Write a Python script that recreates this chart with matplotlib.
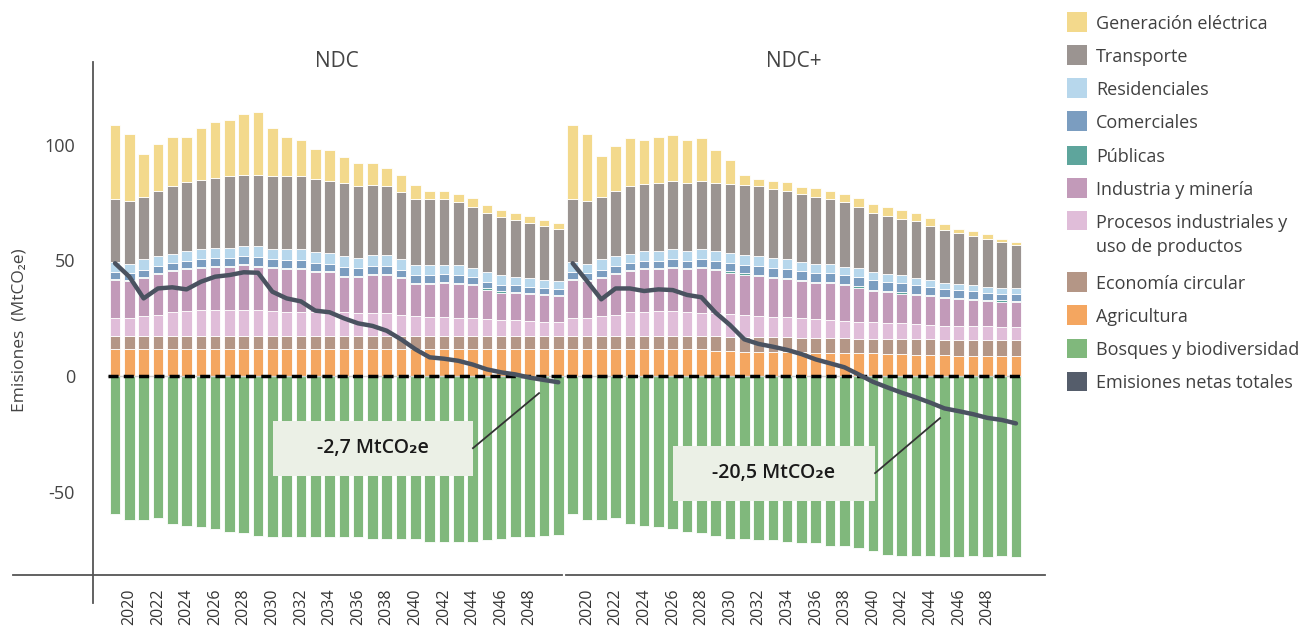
import matplotlib
matplotlib.use('Agg')
import matplotlib.pyplot as plt
from matplotlib.patches import Rectangle
from matplotlib.lines import Line2D

plt.rcParams['font.family'] = ['Open Sans', 'DejaVu Sans']

# ---------------- data ----------------
years = list(range(2019, 2051))
scenarios = ['NDC', 'NDC+']
sectors = ['Generación eléctrica', 'Transporte', 'Residenciales', 'Comerciales', 'Públicas',
           'Industria y minería', 'Procesos industriales y\nuso de productos', 'Economía circular',
           'Agricultura', 'Bosques y biodiversidad', 'Emisiones netas totales']

# NDC
gen_ndc = [32.2, 29.0, 18.4, 20.2, 21.4, 19.5, 22.5, 23.9, 24.6, 26.5, 27.2, 20.8, 17.1, 15.8, 13.1, 13.2,
           11.3, 10.1, 9.5, 8.1, 7.3, 6.2, 3.7, 3.7, 3.8, 3.8, 3.2, 3.2, 3.2, 3.2, 2.4, 2.4]
trans_ndc = [27.3, 27.2, 27.1, 28.4, 29.2, 29.8, 29.7, 30.4, 30.9, 30.8, 30.8, 31.4, 31.4, 31.4, 31.6, 31.5,
             31.6, 30.9, 30.3, 29.7, 29.2, 28.4, 28.4, 28.4, 27.0, 26.5, 25.8, 25.2, 24.5, 23.9, 23.4, 22.7]
res_ndc = [4.2, 4.1, 4.5, 4.0, 4.0, 4.3, 4.4, 4.4, 4.4, 4.4, 4.8, 4.4, 4.7, 4.7, 4.7, 4.4,
           4.7, 4.4, 4.7, 4.7, 4.4, 4.4, 4.4, 4.1, 4.4, 4.0, 4.0, 4.0, 3.8, 3.6, 3.5, 3.4]
com_ndc = [2.9, 2.9, 3.2, 3.0, 2.9, 3.2, 3.3, 3.3, 3.3, 3.3, 3.7, 3.3, 3.6, 3.6, 3.6, 3.3,
           3.6, 3.3, 3.6, 3.6, 3.3, 3.4, 3.4, 3.1, 3.4, 3.0, 3.0, 3.0, 2.9, 2.7, 2.6, 2.6]
pub_ndc = [0.5, 0.5, 0.5, 0.5, 0.5, 0.5, 0.5, 0.5, 0.5, 0.5, 0.5, 0.5, 0.5, 0.5, 0.5, 0.5,
           0.5, 0.5, 0.5, 0.5, 0.5, 0.5, 0.5, 0.5, 0.5, 0.5, 0.5, 0.5, 0.5, 0.5, 0.5, 0.5]
ind_ndc = [16.4, 15.9, 16.3, 17.9, 18.0, 18.0, 18.2, 18.7, 18.7, 19.5, 18.7, 18.6, 18.3, 18.3, 17.4, 17.4,
           15.5, 15.9, 16.5, 16.5, 15.9, 13.8, 14.1, 14.7, 14.6, 14.1, 12.8, 11.9, 11.6, 11.6, 11.6, 11.1]
proc_ndc = [8.0, 8.0, 8.8, 9.2, 10.3, 11.0, 11.4, 11.4, 11.4, 11.4, 11.4, 11.0, 10.7, 10.7, 10.3, 10.3,
            10.3, 9.9, 9.9, 9.9, 9.2, 8.8, 8.5, 8.5, 8.0, 8.0, 7.4, 7.0, 7.0, 6.7, 6.3, 6.3]
circ_ndc = [5.7, 5.7, 5.7, 5.7, 5.7, 5.7, 5.7, 5.7, 5.7, 5.7, 5.7, 5.7, 5.7, 5.7, 5.7, 5.7,
            5.7, 5.7, 5.7, 5.7, 5.7, 5.7, 5.7, 5.7, 5.7, 5.7, 5.7, 5.7, 5.7, 5.7, 5.7, 5.7]
agri_ndc = [11.5, 11.5, 11.5, 11.5, 11.5, 11.5, 11.5, 11.5, 11.5, 11.5, 11.5, 11.5, 11.5, 11.5, 11.5, 11.5,
            11.5, 11.5, 11.5, 11.5, 11.5, 11.5, 11.5, 11.5, 11.5, 11.5, 11.5, 11.5, 11.5, 11.5, 11.5, 11.5]
bosq_ndc = [-59.9, -62.3, -62.3, -61.6, -64.2, -64.8, -65.5, -66.1, -67.4, -68.0, -69.3, -69.8, -69.8, -69.8,
            -69.8, -69.8, -69.8, -69.8, -70.4, -70.4, -70.4, -70.4, -71.7, -71.7, -71.7, -71.7, -71.0, -70.4,
            -69.8, -69.8, -69.3, -68.7]
net_ndc = [48.8, 43.0, 33.6, 37.9, 38.4, 37.5, 40.8, 43.0, 43.7, 44.9, 44.7, 36.5, 33.6, 32.3, 28.3, 27.6,
           25.0, 22.8, 21.7, 19.6, 15.9, 11.6, 8.1, 7.5, 6.6, 5.0, 2.9, 1.6, 0.7, -0.7, -1.7, -2.7]

# NDC+
gen_ndcp = [32.2, 29.0, 17.8, 19.5, 20.8, 19.3, 19.8, 19.6, 18.6, 18.3, 14.1, 10.4, 4.3, 3.0, 3.8, 3.6,
            3.1, 3.8, 3.6, 3.7, 3.8, 3.8, 3.8, 3.8, 3.7, 3.2, 2.5, 1.9, 2.0, 1.9, 1.2, 1.2]
trans_ndcp = [27.3, 27.2, 27.1, 28.4, 29.2, 28.8, 29.5, 29.6, 29.5, 29.6, 29.5, 29.9, 30.3, 30.3, 29.6, 29.7,
              29.7, 29.0, 27.9, 27.8, 26.5, 25.8, 25.1, 24.5, 24.7, 23.4, 22.8, 22.1, 21.3, 20.9, 20.2, 18.9]
res_ndcp = [4.2, 4.1, 4.5, 4.0, 4.0, 4.3, 4.3, 4.4, 4.3, 4.3, 4.3, 4.3, 4.3, 4.3, 4.3, 4.0,
            3.8, 3.8, 3.8, 3.5, 3.8, 3.5, 3.4, 3.4, 3.0, 3.0, 2.8, 2.7, 2.7, 2.5, 2.4, 2.5]
com_ndcp = [2.9, 2.9, 3.2, 3.0, 2.9, 3.2, 3.2, 3.3, 3.2, 3.6, 3.6, 3.5, 3.7, 3.8, 3.9, 4.0,
            3.9, 3.9, 4.0, 3.8, 4.2, 4.0, 4.0, 4.0, 3.8, 3.7, 3.4, 3.3, 3.2, 2.9, 2.8, 2.9]
pub_ndcp = [0.5, 0.5, 0.5, 0.5, 0.5, 0.5, 0.5, 0.5, 0.5, 0.5, 0.5, 0.5, 0.5, 0.5, 0.5, 0.5,
            0.5, 0.5, 0.5, 0.5, 0.5, 0.5, 0.5, 0.5, 0.5, 0.5, 0.5, 0.5, 0.5, 0.5, 0.5, 0.5]
ind_ndcp = [16.4, 15.9, 16.3, 17.9, 17.7, 18.4, 17.9, 18.5, 18.4, 19.2, 18.7, 18.1, 17.5, 17.2, 17.1, 16.6,
            16.1, 15.7, 16.1, 15.6, 14.8, 13.7, 13.3, 12.9, 12.5, 12.4, 11.9, 11.7, 11.3, 11.0, 10.8, 10.6]
proc_ndcp = [7.7, 7.7, 8.5, 8.9, 10.3, 10.3, 10.8, 10.8, 10.3, 9.9, 9.8, 9.6, 9.4, 9.1, 8.6, 8.7,
             8.3, 8.2, 7.8, 7.6, 7.3, 7.1, 7.1, 6.8, 6.6, 6.2, 6.0, 5.8, 5.9, 5.9, 5.8, 5.8]
circ_ndcp = [6.0, 6.0, 6.0, 6.0, 6.0, 6.0, 6.0, 6.0, 6.0, 6.0, 6.3, 6.3, 6.4, 6.3, 6.2, 6.3,
             6.4, 6.5, 6.4, 6.4, 6.4, 6.3, 6.4, 6.5, 6.6, 6.7, 6.8, 7.0, 7.0, 7.0, 6.9, 6.9]
agri_ndcp = [11.5, 11.5, 11.5, 11.5, 11.5, 11.5, 11.5, 11.5, 11.5, 11.5, 11.0, 10.8, 10.6, 10.6, 10.6, 10.4,
             10.2, 10.0, 10.0, 9.9, 9.8, 9.8, 9.6, 9.5, 9.3, 9.2, 9.0, 8.8, 8.7, 8.7, 8.7, 8.7]
bosq_ndcp = [-59.9, -62.3, -62.3, -61.6, -64.2, -64.8, -65.5, -66.1, -67.4, -68.0, -69.3, -70.4, -70.4, -71.0,
             -71.0, -71.7, -72.4, -72.4, -73.6, -73.6, -74.2, -75.5, -77.4, -77.9, -77.9, -77.9, -78.5, -78.5,
             -77.9, -78.5, -77.9, -78.5]
net_ndcp = [48.8, 41.1, 33.2, 37.9, 37.9, 36.8, 37.5, 37.2, 35.1, 34.1, 27.4, 22.1, 15.9, 13.9, 12.7, 11.3,
            9.5, 7.2, 5.5, 3.8, 0.7, -2.5, -4.9, -7.2, -9.2, -11.5, -14.0, -15.2, -16.5, -18.1, -19.0, -20.5]

final_labels = ['-2,7 MtCO\u2082e', '-20,5 MtCO\u2082e']
yticks = [-50, 0, 50, 100]
xtick_years = [2020, 2022, 2024, 2026, 2028, 2030, 2032, 2034, 2036, 2038, 2040, 2042, 2044, 2046, 2048]

colors = ['#F3D98C', '#9B9491', '#B7D7EC', '#7B9DC0', '#5EA59C', '#C29AB9', '#E0BDD9',
          '#B49686', '#F4A660', '#80B87C', '#555D6B']
net_color = '#4A5260'

# ---------------- figure ----------------
W, H = 1306, 628
fig = plt.figure(figsize=(W / 100, H / 100), dpi=100)
ax = fig.add_axes([93 / W, 1 - 575 / H, (1045 - 93) / W, (575 - 62) / H])
ax.set_xlim(-1.54, 65.03)
ax.set_ylim(-86.1, 135.9)
for s in ax.spines.values():
    s.set_visible(False)

n = len(years)
data = [
    ([agri_ndc, circ_ndc, proc_ndc, ind_ndc, pub_ndc, com_ndc, res_ndc, trans_ndc, gen_ndc], bosq_ndc, net_ndc),
    ([agri_ndcp, circ_ndcp, proc_ndcp, ind_ndcp, pub_ndcp, com_ndcp, res_ndcp, trans_ndcp, gen_ndcp], bosq_ndcp, net_ndcp),
]
stack_colors = [colors[8], colors[7], colors[6], colors[5], colors[4], colors[3], colors[2], colors[1], colors[0]]

bw = 0.74
for si, (stack, bosq, net) in enumerate(data):
    xs = [si * n + i for i in range(n)]
    bottom = [0.0] * n
    for vals, c in zip(stack, stack_colors):
        ax.bar(xs, vals, width=bw, bottom=bottom, color=c, edgecolor='white', linewidth=0.6, zorder=2)
        bottom = [b + v for b, v in zip(bottom, vals)]
    ax.bar(xs, bosq, width=bw, color=colors[9], edgecolor='white', linewidth=0.6, zorder=2)
    ax.plot(xs, net, color=net_color, lw=3.2, zorder=6, solid_joinstyle='round', solid_capstyle='round')
    ax.text(si * n + (n - 1) / 2, 135.9, scenarios[si], ha='center', va='center', fontsize=15,
            color='#444444', clip_on=False)

# zero line
ax.plot([-0.49, 2 * n - 0.7], [0, 0], color='#cfcfcf', lw=1.0, zorder=3)
ax.plot([-0.49, 2 * n - 0.7], [0, 0], color='black', lw=2.5, ls=(0, (2.9, 1.5)), zorder=4)

# ticks
ax.set_yticks(yticks)
ax.set_yticklabels([str(v) for v in yticks])
ax.tick_params(axis='y', length=0, pad=13, labelsize=13, labelcolor='#444444')
xt, xl = [], []
for si in range(2):
    for yr in xtick_years:
        xt.append(si * n + years.index(yr))
        xl.append(str(yr))
ax.set_xticks(xt)
ax.set_xticklabels(xl, rotation=90)
ax.tick_params(axis='x', length=0, pad=10, labelsize=11.5, labelcolor='#333333')

# annotation boxes
boxes = [((11.05, -43.3), 13.98, 23.8, (18.04, -31.3), [(25.03, -31.2), (29.65, -7.4)]),
         ((39.02, -54.1), 14.13, 23.8, (46.08, -42.0), [(53.15, -42.0), (57.69, -18.2)])]
for (xy, w, h, tpos, seg), lab in zip(boxes, final_labels):
    ax.add_patch(Rectangle(xy, w, h, facecolor='#EBF0E6', edgecolor='none', zorder=7))
    ax.text(tpos[0], tpos[1], lab, ha='center', va='center', fontsize=14, fontweight='semibold',
            color='#1a1a1a', zorder=8)
    ax.plot([seg[0][0], seg[1][0]], [seg[0][1], seg[1][1]], color='#333333', lw=1.3, zorder=8)

# axis lines
fig.add_artist(Line2D([93 / W, 93 / W], [1 - 62 / H, 1 - 603 / H], color='#555555', lw=1.3))
fig.add_artist(Line2D([13 / W, 562 / W], [1 - 575 / H, 1 - 575 / H], color='#555555', lw=1.3))
fig.add_artist(Line2D([566 / W, 1045 / W], [1 - 575 / H, 1 - 575 / H], color='#555555', lw=1.3))

# y label
fig.text(20 / W, 1 - 330 / H, 'Emisiones  (MtCO\u2082e)', rotation=90, ha='center', va='center',
         fontsize=12.5, color='#444444')

# legend
row_y = [22, 55, 88, 121, 155, 188, 221, 282, 315, 348, 381]
for lab, c, yc in zip(sectors, colors, row_y):
    fig.add_artist(Rectangle((1067 / W, 1 - (yc + 9.5) / H), 20 / W, 19 / H, transform=fig.transFigure,
                             facecolor=c, edgecolor='none'))
    for li, line in enumerate(lab.split('\n')):
        fig.text(1096 / W, 1 - (yc + 2 + 24 * li) / H, line, ha='left', va='center', fontsize=13,
                 color='#404040')

fig.savefig('out.png', dpi=100)
